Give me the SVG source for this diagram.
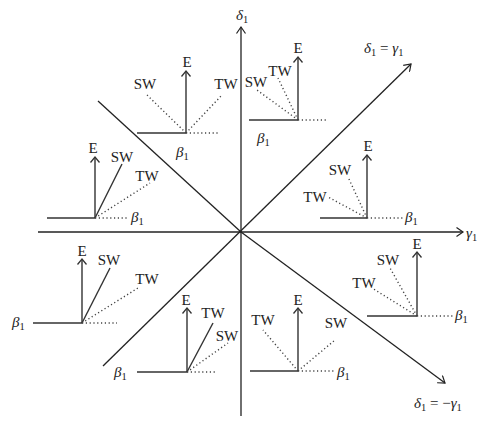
<svg xmlns="http://www.w3.org/2000/svg" width="500" height="431" viewBox="0 0 500 431">
<defs>
<marker id="ah" viewBox="-8 -5 10 10" refX="0" refY="0" markerWidth="10" markerHeight="10" markerUnits="userSpaceOnUse" orient="auto">
<path d="M-6.5,-4.5 L0,0 L-6.5,4.5" fill="none" stroke="#222" stroke-width="1.2"/>
</marker>
<marker id="ahs" viewBox="-8 -5 10 10" refX="0" refY="0" markerWidth="10" markerHeight="10" markerUnits="userSpaceOnUse" orient="auto">
<path d="M-5.5,-4.5 L0,0 L-5.5,4.5" fill="none" stroke="#333" stroke-width="1.3"/>
</marker>
</defs>
<style>
.ax{stroke:#222;stroke-width:1.3;fill:none}
.sl{stroke:#333;stroke-width:1.4;fill:none}
.dt{stroke:#444;stroke-width:1.4;fill:none;stroke-dasharray:1.2,2.6}
.ar{stroke:#333;stroke-width:1.4;fill:none;marker-end:url(#ahs)}
text{font-family:"Liberation Serif","DejaVu Serif",serif;font-size:15px;fill:#222}
.m{text-anchor:middle}
.g{font-style:italic}
.s{font-size:10.5px;font-style:normal}
</style>
<rect width="500" height="431" fill="#fff"/>
<g id="axes">
<line class="ax" x1="241" y1="416" x2="241" y2="27" marker-end="url(#ah)"/>
<line class="ax" x1="38" y1="232" x2="463" y2="232" marker-end="url(#ah)"/>
<line class="ax" x1="103" y1="366" x2="411" y2="64" marker-end="url(#ah)"/>
<line class="ax" x1="98" y1="101" x2="241" y2="232"/>
<line class="ax" x1="241" y1="232" x2="445" y2="383" marker-end="url(#ah)"/>
</g>
<g id="axis-labels">
<text x="236" y="20"><tspan class="g">δ</tspan><tspan class="s" dy="3">1</tspan></text>
<text x="466" y="238"><tspan class="g">γ</tspan><tspan class="s" dy="3">1</tspan></text>
<text x="364" y="53"><tspan class="g">δ</tspan><tspan class="s" dy="3">1</tspan><tspan dy="-3"> = </tspan><tspan class="g">γ</tspan><tspan class="s" dy="3">1</tspan></text>
<text x="414" y="408"><tspan class="g">δ</tspan><tspan class="s" dy="3">1</tspan><tspan dy="-3"> = −</tspan><tspan class="g">γ</tspan><tspan class="s" dy="3">1</tspan></text>
</g>
<g id="d1">
<line class="sl" x1="137" y1="133" x2="186" y2="133"/>
<line class="ar" x1="186" y1="133" x2="186" y2="71"/>
<line class="dt" x1="186" y1="133" x2="218" y2="133"/>
<line class="dt" x1="186" y1="133" x2="147" y2="95"/>
<line class="dt" x1="186" y1="133" x2="222" y2="95"/>
<text class="m" x="187" y="67">E</text>
<text class="m" x="145" y="89">SW</text>
<text class="m" x="226" y="89">TW</text>
<text x="176" y="157"><tspan class="g">β</tspan><tspan class="s" dy="3">1</tspan></text>
</g>
<g id="d2">
<line class="sl" x1="249" y1="120" x2="298" y2="120"/>
<line class="ar" x1="298" y1="120" x2="298" y2="57"/>
<line class="dt" x1="298" y1="120" x2="326" y2="120"/>
<line class="dt" x1="298" y1="120" x2="257" y2="90"/>
<line class="dt" x1="298" y1="120" x2="278" y2="78"/>
<text class="m" x="298" y="53">E</text>
<text class="m" x="256" y="87">SW</text>
<text class="m" x="280" y="76">TW</text>
<text x="257" y="143"><tspan class="g">β</tspan><tspan class="s" dy="3">1</tspan></text>
</g>
<g id="d3">
<line class="sl" x1="47" y1="218" x2="95" y2="218"/>
<line class="ar" x1="95" y1="218" x2="95" y2="157"/>
<line class="dt" x1="95" y1="218" x2="128" y2="218"/>
<line class="sl" x1="95" y1="218" x2="122" y2="164"/>
<line class="dt" x1="95" y1="218" x2="150" y2="183"/>
<text class="m" x="93" y="153">E</text>
<text class="m" x="122" y="162">SW</text>
<text class="m" x="147" y="181">TW</text>
<text x="131" y="222"><tspan class="g">β</tspan><tspan class="s" dy="3">1</tspan></text>
</g>
<g id="d4">
<line class="sl" x1="320" y1="218" x2="367" y2="218"/>
<line class="ar" x1="367" y1="218" x2="367" y2="155"/>
<line class="dt" x1="367" y1="218" x2="403" y2="218"/>
<line class="dt" x1="367" y1="218" x2="348" y2="177"/>
<line class="dt" x1="367" y1="218" x2="328" y2="197"/>
<text class="m" x="368" y="151">E</text>
<text class="m" x="340" y="175">SW</text>
<text class="m" x="315" y="202">TW</text>
<text x="405" y="222"><tspan class="g">β</tspan><tspan class="s" dy="3">1</tspan></text>
</g>
<g id="d5">
<line class="sl" x1="33" y1="323" x2="82" y2="323"/>
<line class="ar" x1="82" y1="323" x2="82" y2="259"/>
<line class="dt" x1="82" y1="323" x2="117" y2="323"/>
<line class="sl" x1="82" y1="323" x2="110" y2="268"/>
<line class="dt" x1="82" y1="323" x2="138" y2="288"/>
<text class="m" x="82" y="256">E</text>
<text class="m" x="109" y="265">SW</text>
<text class="m" x="147" y="284">TW</text>
<text x="12" y="327"><tspan class="g">β</tspan><tspan class="s" dy="3">1</tspan></text>
</g>
<g id="d6">
<line class="sl" x1="367" y1="316" x2="417" y2="316"/>
<line class="ar" x1="417" y1="316" x2="417" y2="252"/>
<line class="dt" x1="417" y1="316" x2="453" y2="316"/>
<line class="dt" x1="417" y1="316" x2="390" y2="268"/>
<line class="dt" x1="417" y1="316" x2="372" y2="288"/>
<text class="m" x="417" y="249">E</text>
<text class="m" x="388" y="265">SW</text>
<text class="m" x="364" y="288">TW</text>
<text x="455" y="320"><tspan class="g">β</tspan><tspan class="s" dy="3">1</tspan></text>
</g>
<g id="d7">
<line class="sl" x1="137" y1="372" x2="187" y2="372"/>
<line class="ar" x1="187" y1="372" x2="187" y2="308"/>
<line class="dt" x1="187" y1="372" x2="217" y2="372"/>
<line class="sl" x1="187" y1="372" x2="213" y2="323"/>
<line class="dt" x1="187" y1="372" x2="228" y2="343"/>
<text class="m" x="186" y="305">E</text>
<text class="m" x="213" y="318">TW</text>
<text class="m" x="227" y="341">SW</text>
<text x="114" y="377"><tspan class="g">β</tspan><tspan class="s" dy="3">1</tspan></text>
</g>
<g id="d8">
<line class="sl" x1="250" y1="371" x2="298" y2="371"/>
<line class="ar" x1="298" y1="371" x2="298" y2="308"/>
<line class="dt" x1="298" y1="371" x2="335" y2="371"/>
<line class="dt" x1="298" y1="371" x2="263" y2="330"/>
<line class="dt" x1="298" y1="371" x2="335" y2="340"/>
<text class="m" x="298" y="305">E</text>
<text class="m" x="263" y="325">TW</text>
<text class="m" x="336" y="328">SW</text>
<text x="337" y="377"><tspan class="g">β</tspan><tspan class="s" dy="3">1</tspan></text>
</g>
</svg>
